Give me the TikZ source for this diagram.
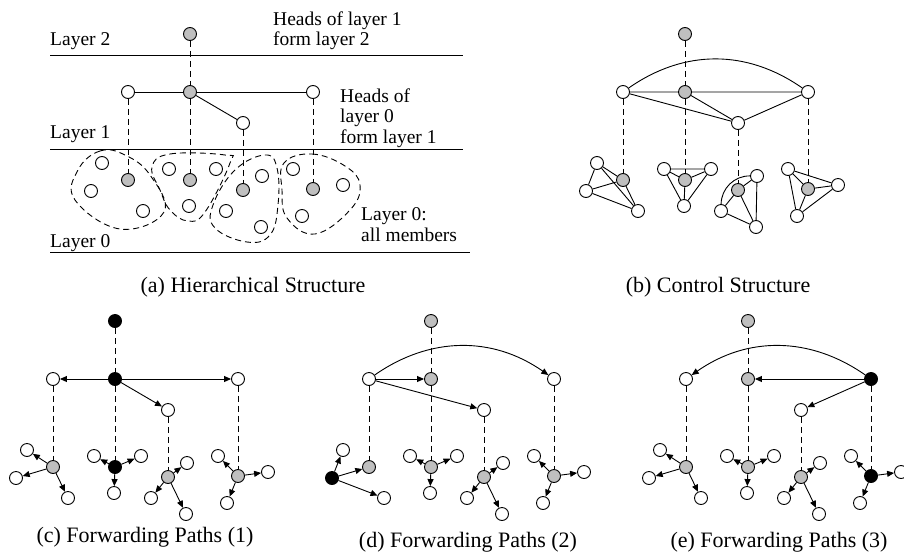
\documentclass[tikz,border=0pt]{standalone}
\usepackage{fontspec}
\setmainfont{Liberation Serif}
\usepackage{tikz}
\usetikzlibrary{arrows.meta}

\begin{document}
\begin{tikzpicture}[
    x=1pt, y=-1pt,
    member/.style={circle, draw, fill=white, minimum size=13pt, inner sep=0pt, line width=0.9pt},
    head/.style={member, fill=black!25},
    source/.style={member, fill=black},
    link/.style={line width=0.9pt},
    tie/.style={line width=0.9pt, dash pattern=on 6pt off 4pt},
    fwd/.style={line width=0.9pt, -{Triangle[length=7pt, width=6pt]}},
    blob/.style={line width=0.9pt, dash pattern=on 6pt off 4pt},
    label/.style={inner sep=0pt, align=left, font=\fontsize{19.5}{20.5}\selectfont},
    caption/.style={inner sep=0pt, font=\fontsize{22}{24}\selectfont}
]
\useasboundingbox (0,0) rectangle (904,552);

% (a) Hierarchical structure
\draw[link] (50,55) -- (463,55);
\draw[link] (50,149) -- (463,149);
\draw[link] (50,252) -- (470,252);
\node[label, anchor=base west] (lay2) at (50,45) {Layer 2};
\node[label, anchor=base west] (lay1) at (50,138) {Layer 1};
\node[label, anchor=base west] (lay0) at (50,247) {Layer 0};
\node[label, anchor=north west] (note2) at (273,11.5) {Heads of layer 1\\form layer 2};
\node[label, anchor=north west] (note1) at (340,88.5) {Heads of\\layer 0\\form layer 1};
\node[label, anchor=north west] (note0) at (361,207.5) {Layer 0:\\all members};

\draw[blob] plot[smooth cycle, tension=0.7] coordinates {(78,170) (100,151) (125,155) (150,175) (164,212) (120,229) (75,200)};
\draw[blob] plot[smooth cycle, tension=0.7] coordinates {(152,167) (170,154) (225,155) (230,163) (205,212) (188,221) (170,210) (160,190)};
\draw[blob] plot[smooth cycle, tension=0.7] coordinates {(235,170) (265,155) (277,168) (278,205) (270,235) (247,242) (215,228) (213,205)};
\draw[blob] plot[smooth cycle, tension=0.7] coordinates {(284,163) (312,154) (345,166) (360,185) (350,210) (315,234) (287,218) (282,190)};

\node[head] (aT) at (190,34) {};
\node[member] (aL1) at (128,92) {};  \node[head] (aL2) at (190,92) {};
\node[member] (aL3) at (313,92) {};  \node[member] (aL4) at (243,123) {};
\node[head] (aH1) at (128,180) {};   \node[head] (aH2) at (190,180) {};
\node[head] (aH3) at (243,190) {};   \node[head] (aH4) at (313,189) {};
\node[member] (aM11) at (102,163) {}; \node[member] (aM12) at (91,191) {};  \node[member] (aM13) at (143,211) {};
\node[member] (aM21) at (169,169) {}; \node[member] (aM22) at (216,169) {}; \node[member] (aM23) at (189,206) {};
\node[member] (aM31) at (262,176) {}; \node[member] (aM32) at (226,211) {}; \node[member] (aM33) at (261,227) {};
\node[member] (aM41) at (293,169) {}; \node[member] (aM42) at (343,185) {}; \node[member] (aM43) at (302,216) {};

\draw[link] (aL1) -- (aL2) -- (aL3);
\draw[link] (aL2) -- (aL4);
\draw[tie] (aT) -- (aL2) -- (aH2);
\draw[tie] (aL1) -- (aH1);
\draw[tie] (aL4) -- (aH3);
\draw[tie] (aL3) -- (aH4);

\node[caption] (capa) at (253,287) {(a) Hierarchical Structure};

% (b) Control structure
\begin{scope}[shift={(495,0)}]
\node[head] (bT) at (190,34) {};
\node[member] (bL1) at (128,92) {};  \node[head] (bL2) at (190,92) {};
\node[member] (bL3) at (313,92) {};  \node[member] (bL4) at (243,123) {};
\node[head] (bH1) at (128,180) {};   \node[head] (bH2) at (190,180) {};
\node[head] (bH3) at (243,190) {};   \node[head] (bH4) at (313,189) {};
\node[member] (bM11) at (102,163) {}; \node[member] (bM12) at (91,191) {};  \node[member] (bM13) at (143,211) {};
\node[member] (bM21) at (169,169) {}; \node[member] (bM22) at (216,169) {}; \node[member] (bM23) at (189,206) {};
\node[member] (bM31) at (262,176) {}; \node[member] (bM32) at (226,211) {}; \node[member] (bM33) at (261,227) {};
\node[member] (bM41) at (293,169) {}; \node[member] (bM42) at (343,185) {}; \node[member] (bM43) at (302,216) {};
\end{scope}

\draw[link] (bL1) -- (bL2) -- (bL3) -- (bL4) -- (bL1);
\draw[link] (bL2) -- (bL4);
\draw[link] (bL1) to[bend left=35] (bL3);
\draw[tie] (bT) -- (bL2) -- (bH2);
\draw[tie] (bL1) -- (bH1);
\draw[tie] (bL4) -- (bH3);
\draw[tie] (bL3) -- (bH4);
% clusters
\draw[link] (bM11) -- (bH1) -- (bM12) -- (bM11) -- (bM13) -- (bH1);
\draw[link] (bM12) -- (bM13);
\draw[link] (bM21) -- (bM22) -- (bH2) -- (bM21) -- (bM23) -- (bM22);
\draw[link] (bH2) -- (bM23);
\draw[link] (bM32) to[bend left=45] (bM31);
\draw[link] (bM31) -- (bH3) -- (bM32) -- (bM33) -- (bM31);
\draw[link] (bH3) -- (bM33);
\draw[link] (bM41) -- (bM42) -- (bH4) -- (bM41) -- (bM43) -- (bM42);
\draw[link] (bH4) -- (bM43);

\node[caption] (capb) at (718,287) {(b) Control Structure};

% (c) Forwarding paths (1)
\begin{scope}[shift={(-75,287)}]
\node[source] (cT) at (190,34) {};
\node[member] (cL1) at (128,92) {};  \node[source] (cL2) at (190,92) {};
\node[member] (cL3) at (313,92) {};  \node[member] (cL4) at (243,123) {};
\node[head] (cH1) at (128,180) {};   \node[source] (cH2) at (190,180) {};
\node[head] (cH3) at (243,190) {};   \node[head] (cH4) at (313,189) {};
\node[member] (cM11) at (102,163) {}; \node[member] (cM12) at (91,191) {};  \node[member] (cM13) at (143,211) {};
\node[member] (cM21) at (169,169) {}; \node[member] (cM22) at (216,169) {}; \node[member] (cM23) at (189,206) {};
\node[member] (cM31) at (262,176) {}; \node[member] (cM32) at (226,211) {}; \node[member] (cM33) at (261,227) {};
\node[member] (cM41) at (293,169) {}; \node[member] (cM42) at (343,185) {}; \node[member] (cM43) at (302,216) {};
\end{scope}

\draw[fwd] (cL2) -- (cL1);
\draw[fwd] (cL2) -- (cL3);
\draw[fwd] (cL2) -- (cL4);
\draw[tie] (cT) -- (cL2) -- (cH2);
\draw[tie] (cL1) -- (cH1);
\draw[tie] (cL4) -- (cH3);
\draw[tie] (cL3) -- (cH4);
\draw[fwd] (cH1) -- (cM11); \draw[fwd] (cH1) -- (cM12); \draw[fwd] (cH1) -- (cM13);
\draw[fwd] (cH2) -- (cM21); \draw[fwd] (cH2) -- (cM22); \draw[fwd] (cH2) -- (cM23);
\draw[fwd] (cH3) -- (cM31); \draw[fwd] (cH3) -- (cM32); \draw[fwd] (cH3) -- (cM33);
\draw[fwd] (cH4) -- (cM41); \draw[fwd] (cH4) -- (cM42); \draw[fwd] (cH4) -- (cM43);

\node[caption] (capc) at (145,537) {(c) Forwarding Paths (1)};

% (d) Forwarding paths (2)
\begin{scope}[shift={(241,287)}]
\node[head] (dT) at (190,34) {};
\node[member] (dL1) at (128,92) {};  \node[head] (dL2) at (190,92) {};
\node[member] (dL3) at (313,92) {};  \node[member] (dL4) at (243,123) {};
\node[head] (dH1) at (128,180) {};   \node[head] (dH2) at (190,180) {};
\node[head] (dH3) at (243,190) {};   \node[head] (dH4) at (313,189) {};
\node[member] (dM11) at (102,163) {}; \node[source] (dM12) at (91,191) {};  \node[member] (dM13) at (143,211) {};
\node[member] (dM21) at (169,169) {}; \node[member] (dM22) at (216,169) {}; \node[member] (dM23) at (189,206) {};
\node[member] (dM31) at (262,176) {}; \node[member] (dM32) at (226,211) {}; \node[member] (dM33) at (261,227) {};
\node[member] (dM41) at (293,169) {}; \node[member] (dM42) at (343,185) {}; \node[member] (dM43) at (302,216) {};
\end{scope}

\draw[fwd] (dL1) -- (dL2);
\draw[fwd] (dL1) -- (dL4);
\draw[fwd] (dL1) to[bend left=35] (dL3);
\draw[tie] (dT) -- (dL2) -- (dH2);
\draw[tie] (dL1) -- (dH1);
\draw[tie] (dL4) -- (dH3);
\draw[tie] (dL3) -- (dH4);
\draw[fwd] (dM12) -- (dH1); \draw[fwd] (dM12) -- (dM11); \draw[fwd] (dM12) -- (dM13);
\draw[fwd] (dH2) -- (dM21); \draw[fwd] (dH2) -- (dM22); \draw[fwd] (dH2) -- (dM23);
\draw[fwd] (dH3) -- (dM31); \draw[fwd] (dH3) -- (dM32); \draw[fwd] (dH3) -- (dM33);
\draw[fwd] (dH4) -- (dM41); \draw[fwd] (dH4) -- (dM42); \draw[fwd] (dH4) -- (dM43);

\node[caption] (capd) at (468,542) {(d) Forwarding Paths (2)};

% (e) Forwarding paths (3)
\begin{scope}[shift={(558,287)}]
\node[head] (eT) at (190,34) {};
\node[member] (eL1) at (128,92) {};  \node[head] (eL2) at (190,92) {};
\node[source] (eL3) at (313,92) {};  \node[member] (eL4) at (243,123) {};
\node[head] (eH1) at (128,180) {};   \node[head] (eH2) at (190,180) {};
\node[head] (eH3) at (243,190) {};   \node[source] (eH4) at (313,189) {};
\node[member] (eM11) at (102,163) {}; \node[member] (eM12) at (91,191) {};  \node[member] (eM13) at (143,211) {};
\node[member] (eM21) at (169,169) {}; \node[member] (eM22) at (216,169) {}; \node[member] (eM23) at (189,206) {};
\node[member] (eM31) at (262,176) {}; \node[member] (eM32) at (226,211) {}; \node[member] (eM33) at (261,227) {};
\node[member] (eM41) at (293,169) {}; \node[member] (eM42) at (343,185) {}; \node[member] (eM43) at (302,216) {};
\end{scope}

\draw[fwd] (eL3) -- (eL2);
\draw[fwd] (eL3) -- (eL4);
\draw[fwd] (eL3) to[bend right=35] (eL1);
\draw[tie] (eT) -- (eL2) -- (eH2);
\draw[tie] (eL1) -- (eH1);
\draw[tie] (eL4) -- (eH3);
\draw[tie] (eL3) -- (eH4);
\draw[fwd] (eH1) -- (eM11); \draw[fwd] (eH1) -- (eM12); \draw[fwd] (eH1) -- (eM13);
\draw[fwd] (eH2) -- (eM21); \draw[fwd] (eH2) -- (eM22); \draw[fwd] (eH2) -- (eM23);
\draw[fwd] (eH3) -- (eM31); \draw[fwd] (eH3) -- (eM32); \draw[fwd] (eH3) -- (eM33);
\draw[fwd] (eH4) -- (eM41); \draw[fwd] (eH4) -- (eM42); \draw[fwd] (eH4) -- (eM43);

\node[caption] (cape) at (779,542) {(e) Forwarding Paths (3)};

\end{tikzpicture}
\end{document}
